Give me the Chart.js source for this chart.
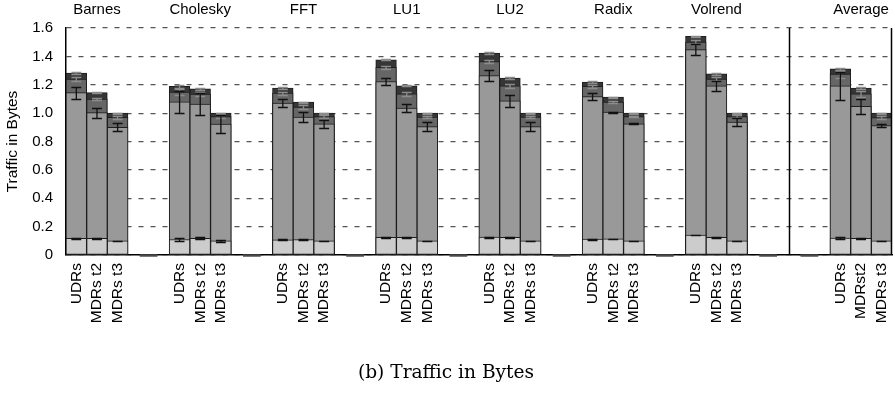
<!DOCTYPE html>
<html>
<head>
<meta charset="utf-8">
<script src="https://cdn.jsdelivr.net/npm/chart.js@4.4.1/dist/chart.umd.min.js"></script>
<style>
  body { margin: 0; background: #fff; }
</style>
</head>
<body>
<canvas id="graficoTrafico" width="895" height="411"></canvas>
<script>
// benchmarks y configuraciones de cada grupo
const grupos = ['Barnes', 'Cholesky', 'FFT', 'LU1', 'LU2', 'Radix', 'Volrend', 'Average'];
const configuraciones = ['UDRs', 'MDRs t2', 'MDRs t3'];
const configuracionesPromedio = ['UDRs', 'MDRst2', 'MDRs t3'];

// nivel acumulado de cada tramo (3 barras por grupo, en el orden de grupos)
const nivelBase = [
  0.118, 0.118, 0.099,  0.109, 0.118, 0.099,  0.107, 0.108, 0.099,
  0.125, 0.125, 0.099,  0.126, 0.125, 0.099,  0.112, 0.113, 0.099,
  0.141, 0.125, 0.099,  0.120, 0.118, 0.099
];
const nivelMedio = [
  1.145, 1.004, 0.900,  1.080, 1.063, 0.922,  1.070, 0.972, 0.924,
  1.223, 1.035, 0.905,  1.265, 1.087, 0.905,  1.117, 1.007, 0.924,
  1.447, 1.193, 0.936,  1.193, 1.047, 0.913
];
const nivelOscuro = [
  1.240, 1.099, 0.970,  1.148, 1.134, 0.976,  1.141, 1.042, 0.976,
  1.322, 1.136, 0.972,  1.364, 1.193, 0.972,  1.188, 1.077, 0.976,
  1.501, 1.240, 0.976,  1.275, 1.136, 0.969
];
const nivelTotal = [
  1.282, 1.145, 1.000,  1.188, 1.171, 1.000,  1.176, 1.077, 1.000,
  1.376, 1.193, 1.000,  1.423, 1.247, 1.000,  1.219, 1.113, 1.000,
  1.541, 1.277, 1.000,  1.313, 1.176, 1.000
];

// desviaciones de cada nivel
const errorBase = [
  0.004, 0.004, 0.003,  0.008, 0.006, 0.006,  0.003, 0.003, 0.003,
  0.003, 0.003, 0.003,  0.003, 0.003, 0.003,  0.003, 0.003, 0.003,
  0.003, 0.003, 0.003,  0.006, 0.005, 0.003
];
const errorMedio = [
  0.042, 0.035, 0.028,  0.079, 0.077, 0.064,  0.026, 0.034, 0.027,
  0.026, 0.028, 0.029,  0.039, 0.041, 0.030,  0.024, 0.004, 0.004,
  0.039, 0.036, 0.027,  0.100, 0.050, 0.008
];
const errorOscuro = [
  0.012, 0.010, 0.008,  0.020, 0.015, 0.010,  0.010, 0.012, 0.008,
  0.010, 0.012, 0.008,  0.012, 0.014, 0.008,  0.008, 0.006, 0.006,
  0.012, 0.012, 0.008,  0.025, 0.020, 0.008
];
const errorTotal = [
  0.006, 0.005, 0.004,  0.010, 0.006, 0.004,  0.005, 0.004, 0.004,
  0.004, 0.004, 0.004,  0.005, 0.005, 0.004,  0.006, 0.004, 0.004,
  0.006, 0.006, 0.004,  0.008, 0.006, 0.004
];

// distribución de las barras en el eje
const totalSlots = 40;
const inicioGrupo = [0, 5, 10, 15, 20, 25, 30, 37];
const marcasVacias = [3.5, 8.5, 13.5, 18.5, 23.5, 28.5, 33.5, 35.5];
const separador = 34.5;

function Expandir(valores) {
  let slots = new Array(totalSlots).fill(null);
  inicioGrupo.forEach(function (inicio, g) {
    for (let b = 0; b < 3; b++) {
      slots[inicio + b] = valores[g * 3 + b];
    }
  });
  return slots;
}

let etiquetas = new Array(totalSlots).fill('');
let titulos = new Array(totalSlots).fill('');
inicioGrupo.forEach(function (inicio, g) {
  let nombres = grupos[g] === 'Average' ? configuracionesPromedio : configuraciones;
  for (let b = 0; b < 3; b++) {
    etiquetas[inicio + b] = nombres[b];
  }
  titulos[inicio + 1] = grupos[g];
});

// dibuja barras de error, marcas vacías en la base y líneas del marco
const extras = {
  id: 'extras',
  afterDatasetsDraw(chart) {
    const ctx = chart.ctx;
    const x = chart.scales.x;
    const y = chart.scales.y;
    const area = chart.chartArea;

    for (let i = chart.data.datasets.length - 1; i >= 0; i--) {
      const ds = chart.data.datasets[i];
      const meta = chart.getDatasetMeta(i);
      ctx.save();
      ctx.strokeStyle = ds.colorError;
      ctx.lineWidth = 1.3;
      meta.data.forEach(function (barra, j) {
        const v = ds.data[j];
        const e = ds.errores[j];
        if (v === null || e === null) return;
        const arriba = Math.round(y.getPixelForValue(v + e)) + 0.5;
        const abajo = Math.round(y.getPixelForValue(v - e)) + 0.5;
        const media = barra.width * 0.24;
        ctx.beginPath();
        ctx.moveTo(barra.x, arriba);
        ctx.lineTo(barra.x, abajo);
        ctx.moveTo(barra.x - media, arriba);
        ctx.lineTo(barra.x + media, arriba);
        ctx.moveTo(barra.x - media, abajo);
        ctx.lineTo(barra.x + media, abajo);
        ctx.stroke();
      });
      ctx.restore();
    }

    const anchoSlot = x.getPixelForValue(1) - x.getPixelForValue(0);
    const base = y.getPixelForValue(0);
    ctx.save();
    ctx.strokeStyle = '#4a4a4a';
    ctx.lineWidth = 2.5;
    marcasVacias.forEach(function (m) {
      const cx = x.getPixelForValue(m);
      ctx.beginPath();
      ctx.moveTo(cx - anchoSlot * 0.43, base + 0.5);
      ctx.lineTo(cx + anchoSlot * 0.43, base + 0.5);
      ctx.stroke();
    });

    ctx.strokeStyle = '#000';
    ctx.lineWidth = 1.5;
    const sx = Math.round(x.getPixelForValue(separador)) + 0.5;
    ctx.beginPath();
    ctx.moveTo(sx, area.top);
    ctx.lineTo(sx, area.bottom);
    ctx.moveTo(area.right - 0.5, area.top);
    ctx.lineTo(area.right - 0.5, area.bottom);
    ctx.stroke();
    ctx.restore();
  }
};

function Tramo(nombre, niveles, errores, color, colorError) {
  return {
    label: nombre,
    data: Expandir(niveles),
    errores: Expandir(errores),
    colorError: colorError,
    backgroundColor: color,
    borderColor: '#1e1e1e',
    borderWidth: 1,
    borderSkipped: false,
    grouped: false,
    categoryPercentage: 1,
    barPercentage: 1
  };
}

// sin márgenes extra por las etiquetas de los extremos
function SinRelleno(escala) {
  escala.paddingLeft = 0;
  escala.paddingRight = 0;
}

const fuente = 'Liberation Sans, Arial, sans-serif';

let ctxTrafico = document.getElementById('graficoTrafico');
let graficoTrafico = new Chart(ctxTrafico, {
  type: 'bar',
  data: {
    labels: etiquetas,
    datasets: [
      Tramo('base', nivelBase, errorBase, '#cccccc', '#111'),
      Tramo('medio', nivelMedio, errorMedio, '#999999', '#111'),
      Tramo('oscuro', nivelOscuro, errorOscuro, '#666666', '#8c8c8c'),
      Tramo('total', nivelTotal, errorTotal, '#363636', '#8c8c8c')
    ]
  },
  options: {
    responsive: false,
    animation: false,
    devicePixelRatio: 1,
    layout: { padding: { left: 0, right: 3, top: 0, bottom: 0 } },
    plugins: {
      legend: { display: false },
      tooltip: { enabled: false },
      title: {
        display: true,
        position: 'bottom',
        text: '(b) Traffic in Bytes',
        color: '#000',
        font: { family: 'DejaVu Serif, serif', size: 18.6, weight: 'normal' },
        padding: { top: 0, bottom: 27 }
      }
    },
    scales: {
      x: {
        type: 'category',
        offset: true,
        grid: { display: false, drawTicks: false },
        border: { display: true, color: '#000', width: 1.5 },
        ticks: {
          autoSkip: false,
          minRotation: 90,
          maxRotation: 90,
          padding: 8,
          color: '#000',
          font: { family: fuente, size: 15.5 }
        },
        afterFit: function (escala) {
          escala.height = 106.7;
          SinRelleno(escala);
        }
      },
      x2: {
        type: 'category',
        position: 'top',
        labels: titulos,
        offset: true,
        grid: { display: false, drawTicks: false },
        border: { display: false },
        ticks: {
          autoSkip: false,
          minRotation: 0,
          maxRotation: 0,
          padding: 9,
          color: '#000',
          font: { family: fuente, size: 15 }
        },
        afterFit: function (escala) {
          escala.height = 28;
          SinRelleno(escala);
        }
      },
      y: {
        min: 0,
        max: 1.6,
        ticks: {
          stepSize: 0.2,
          padding: 13,
          color: '#000',
          font: { family: fuente, size: 15 }
        },
        grid: { color: '#555555', lineWidth: 1.2, drawTicks: false },
        border: { display: true, color: '#000', width: 1.5, dash: [5, 7] },
        title: {
          display: true,
          text: 'Traffic in Bytes',
          color: '#000',
          font: { family: fuente, size: 15.5 },
          padding: { top: 3, bottom: 0 }
        },
        afterFit: function (escala) { escala.width = 66; }
      }
    }
  },
  plugins: [extras]
});
</script>
</body>
</html>
